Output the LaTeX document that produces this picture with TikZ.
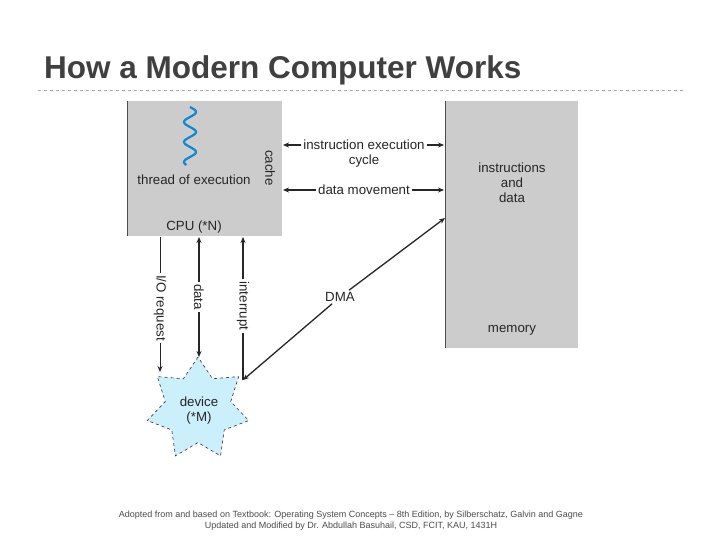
\documentclass[tikz,border=0pt]{standalone}
\usepackage{fontspec}
\setmainfont{Liberation Sans}
\usetikzlibrary{shapes.geometric,arrows.meta}
\begin{document}
\begin{tikzpicture}[x=1pt,y=-1pt,
  lbl/.style={font=\fontsize{13.3}{15}\selectfont,text=black!85,inner sep=1pt},
  box/.style={fill=black!20,draw=none},
  arr/.style={-{Stealth[length=6pt,width=5pt]},line width=1.3pt,black!85},
  darr/.style={{Stealth[length=6pt,width=5pt]}-{Stealth[length=6pt,width=5pt]},line width=1.3pt,black!85}]
\useasboundingbox (0,0) rectangle (720,540);
\fill[white] (0,0) rectangle (720,540);
\node[anchor=base west,font=\fontsize{31.5}{34}\selectfont\bfseries,text=black!75,inner sep=0] (title) at (44,79) {How a Modern Computer Works};
\draw[black!35,dashed,line width=0.7pt] (38,90) -- (685,90);
% CPU
\node[box,minimum width=155,minimum height=135,anchor=north west,inner sep=0] (cpu) at (127,101) {};
\draw[black!70,line width=0.8pt] (127,101) -- (127,236);
\draw[cyan!70!blue,line width=2.2pt] plot[domain=0:58,samples=60,smooth] ({190+6*sin(\x*18)},{107+\x});
\node[lbl] (thread) at (194,180) {thread of execution};
\node[lbl,rotate=-90] (cache) at (270,168) {cache};
\node[lbl] (cpul) at (194,227) {CPU (*N)};
% memory
\node[box,minimum width=133,minimum height=247,anchor=north west,inner sep=0] (mem) at (445,101) {};
\draw[black!70,line width=0.8pt] (445,101) -- (445,348);
\node[lbl,align=center] (ins) at (512,183) {instructions\\and\\data};
\node[lbl] (meml) at (512,330) {memory};
% star
\node[star,star points=7,star point ratio=1.55,minimum size=104,fill=cyan!20,draw=black!80,dashed,line width=0.6pt,inner sep=0] (dev) at (198,409) {};
\node[lbl,align=center] (devl) at (199,411) {device\\(*M)};
% top arrows
\coordinate (c1) at (283,145); \coordinate (m1) at (444,145);
\coordinate (c2) at (283,190); \coordinate (m2) at (444,190);
\node[lbl,fill=white,inner sep=2pt] (iec) at (364,145) {instruction execution};
\node[lbl] (cyc) at (364,161) {cycle};
\node[lbl,fill=white,inner sep=2pt] (dm) at (364,190) {data movement};
\draw[arr] (iec) -- (c1); \draw[arr] (iec) -- (m1);
\draw[arr] (dm) -- (c2); \draw[arr] (dm) -- (m2);
% vertical
\coordinate (io1) at (160,237); \coordinate (io2) at (160,372);
\coordinate (d1) at (199,237); \coordinate (d2) at (199,357);
\coordinate (i1) at (243,237); \coordinate (i2) at (243,380);
\node[lbl,rotate=-90,fill=white,inner sep=2pt] (iol) at (160,308) {I/O request};
\node[lbl,rotate=-90,fill=white,inner sep=2pt] (il) at (243,306) {interrupt};
\draw[black!85,line width=0.9pt] (io1) -- (iol);
\draw[-{Stealth[length=6pt,width=5pt]},black!85,line width=0.9pt] (iol) -- (io2);
\draw[darr] (d1) -- (d2);
\node[lbl,rotate=-90,fill=white,inner sep=2pt] (dl) at (199,297) {data};
\draw[black!85,line width=1.3pt] (i2) -- (il);
\draw[arr] (il) -- (i1);
% DMA
\coordinate (dm1) at (243,380); \coordinate (dm2) at (445,218);
\node[lbl,fill=white,inner sep=2pt] (dma) at (340,297) {DMA};
\draw[arr] (dma) -- (dm1); \draw[arr] (dma) -- (dm2);
% footer
\node[font=\fontsize{9}{11}\selectfont,text=black!70,align=center] (foot) at (351,521) {Adopted from and based on Textbook: Operating System Concepts -- 8th Edition, by Silberschatz, Galvin and Gagne\\Updated and Modified by Dr. Abdullah Basuhail, CSD, FCIT, KAU, 1431H};
\end{tikzpicture}
\end{document}
